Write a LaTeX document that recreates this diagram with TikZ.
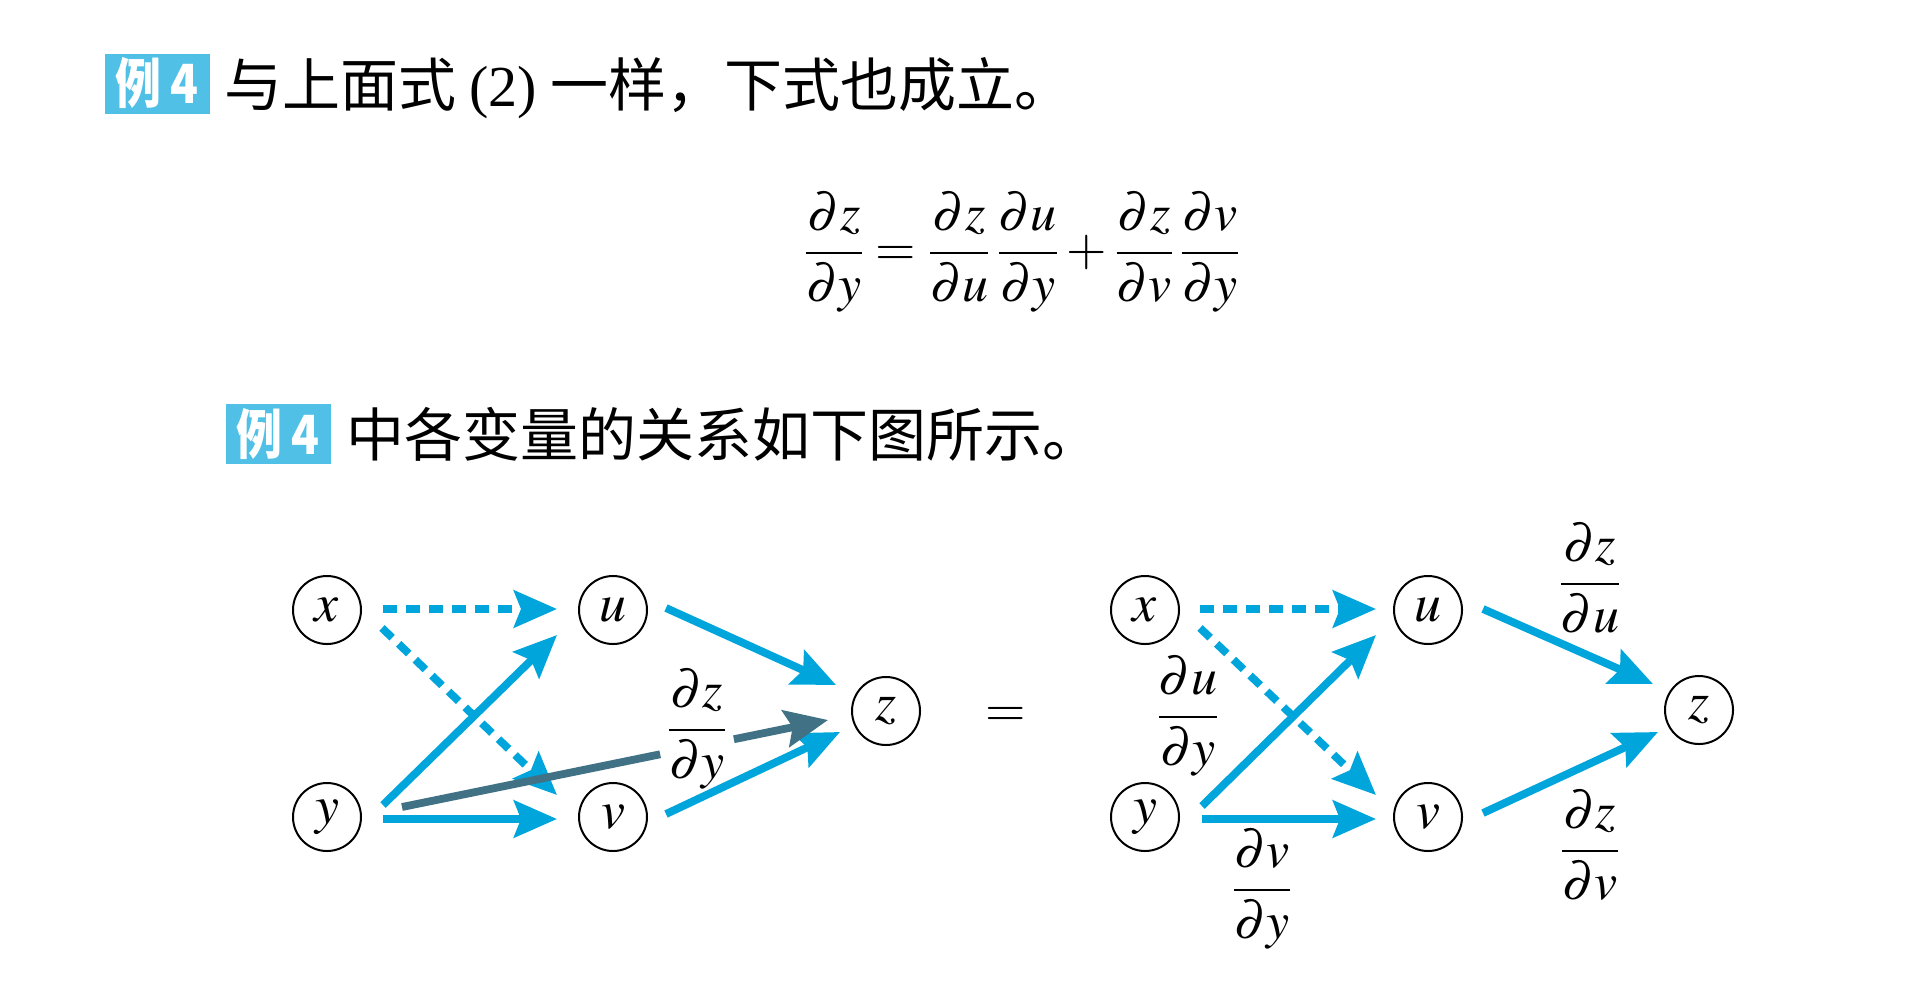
\documentclass[tikz,border=0pt]{standalone}
\usepackage{amsmath}
\usepackage{mathptmx}
\usepackage{graphicx}
\usepackage[no-math]{fontspec}
\setmainfont{Liberation Serif}
\newfontfamily\cjk{Noto Sans CJK SC}
\usetikzlibrary{arrows.meta,calc}
\definecolor{cblue}{RGB}{0,166,219}
\definecolor{cdark}{RGB}{65,113,132}
\definecolor{cbox}{RGB}{80,192,230}
\tikzset{
  arr/.style={line width=3.9pt, draw=cblue, -{Stealth[length=21.5pt,width=18.5pt,inset=3.5pt]}},
  dsh/.style={arr, dash pattern=on 7pt off 4.5pt},
  darkarr/.style={line width=3.9pt, draw=cdark, -{Stealth[length=21.5pt,width=18.5pt,inset=3.5pt]}},
  darkline/.style={line width=3.9pt, draw=cdark},
  var/.style={circle, draw=black, line width=1pt, minimum size=34pt, inner sep=0pt, font=\fontsize{27}{30}\selectfont},
  lab/.style={inner sep=0pt, font=\fontsize{26}{30}\selectfont},
  tagbox/.style={fill=cbox, text=white, minimum width=52.5pt, minimum height=30pt, inner sep=0pt, font=\cjk\bfseries\fontsize{27}{27}\selectfont},
  cjktext/.style={anchor=base west, inner sep=0pt, font=\cjk\fontsize{29}{29}\selectfont},
}
\begin{document}
\begin{tikzpicture}[x=0.5pt,y=-0.5pt]
\useasboundingbox (0,0) rectangle (1930,1002);
\fill[white] (0,0) rectangle (1930,1002);

% heading lines
\node[tagbox] (t1) at (157,83.5) {\scalebox{0.85}[1]{例\hspace{5pt}4}};
\node[cjktext] (h1) at (224,106) {与上面式 {\rmfamily (2)} 一样，下式也成立。};
\node[lab] (eq) at (1022,252) {$\dfrac{\partial z}{\partial y}=\dfrac{\partial z}{\partial u}\,\dfrac{\partial u}{\partial y}+\dfrac{\partial z}{\partial v}\,\dfrac{\partial v}{\partial y}$};
\node[tagbox] (t2) at (278,434) {\scalebox{0.85}[1]{例\hspace{5pt}4}};
\node[cjktext] (h2) at (346,456) {中各变量的关系如下图所示。};

% left diagram
\node[var] (x1) at (327,610) {$x$};
\node[var] (u1) at (613,610) {$u$};
\node[var] (y1) at (327,817) {$y$};
\node[var] (v1) at (613,817) {$v$};
\node[var] (z1) at (886,711) {$z$};

\draw[dsh] ($(x1)+(56,-1)$) -- ($(u1)+(-56,-1)$);
\draw[dsh] ($(x1)+(55,18)$) -- ($(v1)+(-56,-22)$);
\draw[arr] ($(y1)+(56,-12)$) -- ($(u1)+(-56,25)$);
\draw[arr] ($(y1)+(56,2)$) -- ($(v1)+(-56,2)$);
\draw[arr] ($(u1)+(53,-2)$) -- ($(z1)+(-50,-26)$);
\draw[arr] ($(v1)+(53,-3)$) -- ($(z1)+(-46,21)$);

\coordinate (ds) at ($(y1)+(75,-10)$);
\coordinate (de) at ($(z1)+(-58,9)$);
\draw[darkline] (ds) -- ($(ds)!0.606!(de)$);
\draw[darkarr] ($(ds)!0.779!(de)$) -- (de);
\node[lab] (l1) at (697,729) {$\dfrac{\partial z}{\partial y}$};

\node[lab] (eqs) at (1006,717) {$=$};

% right diagram
\node[var] (x2) at (1145,610) {$x$};
\node[var] (u2) at (1428,610) {$u$};
\node[var] (y2) at (1145,817) {$y$};
\node[var] (v2) at (1428,817) {$v$};
\node[var] (z2) at (1699,710) {$z$};

\draw[dsh] ($(x2)+(55,-1)$) -- ($(u2)+(-52,-1)$);
\draw[dsh] ($(x2)+(55,18)$) -- ($(v2)+(-52,-22)$);
\draw[arr] ($(y2)+(57,-11)$) -- ($(u2)+(-52,25)$);
\draw[arr] ($(y2)+(57,2)$) -- ($(v2)+(-52,2)$);
\draw[arr] ($(u2)+(55,-1)$) -- ($(z2)+(-46,-26)$);
\draw[arr] ($(v2)+(55,-4)$) -- ($(z2)+(-41,22)$);

\node[lab] (l2) at (1590,578) {$\dfrac{\partial z}{\partial u}$};
\node[lab] (l3) at (1188,716) {$\dfrac{\partial u}{\partial y}$};
\node[lab] (l4) at (1262,889) {$\dfrac{\partial v}{\partial y}$};
\node[lab] (l5) at (1590,845) {$\dfrac{\partial z}{\partial v}$};
\end{tikzpicture}
\end{document}
